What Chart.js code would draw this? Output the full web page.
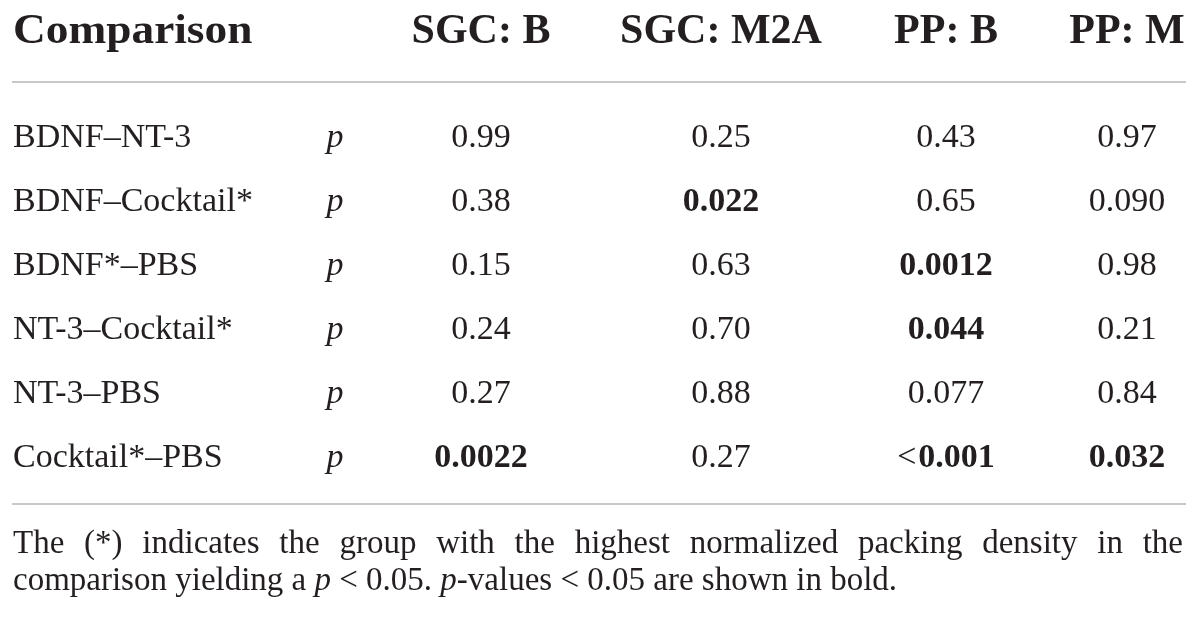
<!DOCTYPE html>
<html>
<head>
<meta charset="utf-8">
<script src="https://cdn.jsdelivr.net/npm/chart.js@4"></script>
<style>
  html, body { margin: 0; padding: 0; background: #ffffff; }
  #wrap { width: 1200px; height: 623px; position: relative; }
</style>
</head>
<body>
<div id="wrap"><canvas id="table"></canvas></div>
<script>
// ============================================
// Table data
// ============================================
const comparisons = ['BDNF\u2013NT-3', 'BDNF\u2013Cocktail*', 'BDNF*\u2013PBS', 'NT-3\u2013Cocktail*', 'NT-3\u2013PBS', 'Cocktail*\u2013PBS'];
const columns = ['SGC: B', 'SGC: M2A', 'PP: B', 'PP: M'];
const sgcB = ['0.99', '0.38', '0.15', '0.24', '0.27', '0.0022'];
const sgcM2A = ['0.25', '0.022', '0.63', '0.70', '0.88', '0.27'];
const ppB = ['0.43', '0.65', '0.0012', '0.044', '0.077', '<0.001'];
const ppM = ['0.97', '0.090', '0.98', '0.21', '0.84', '0.032'];
const series = [sgcB, sgcM2A, ppB, ppM];
const alpha = 0.05;

// ============================================
// Layout / style
// ============================================
const serif = "'Liberation Serif', 'DejaVu Serif', serif";
const ink = '#231f20';
const ruleColor = '#c8c8c8';
const colX = [481, 721, 946, 1127];   // column centres (x scale units = px)
const pColX = 335;
const leftX = 13;
const rightX = 1185;

// p < 0.05 -> bold
function isSignificant(v) {
    return parseFloat(v.replace('<', '')) < alpha;
}

const datasets = series.map((vals, k) => ({
    label: columns[k],
    data: comparisons.map((c, i) => ({ x: colX[k], y: c, text: vals[i] })),
    pointRadius: 0,
    pointHoverRadius: 0
}));
// the "p" column
datasets.unshift({
    label: 'p',
    data: comparisons.map(c => ({ x: pColX, y: c, text: 'p' })),
    pointRadius: 0,
    pointHoverRadius: 0
});

const tablePlugin = {
    id: 'tableText',
    afterDatasetsDraw(chart) {
        const ctx = chart.ctx;
        const yScale = chart.scales.y;
        const xScale = chart.scales.x;
        ctx.save();
        ctx.fillStyle = ink;
        ctx.textBaseline = 'alphabetic';

        // header
        ctx.font = 'bold 42px ' + serif;
        ctx.textAlign = 'left';
        ctx.save();
        ctx.translate(leftX, 43);
        ctx.scale(1.08, 1);   // original face is a bit wider
        ctx.fillText('Comparison', 0, 0);
        ctx.restore();
        ctx.textAlign = 'center';
        columns.forEach((c, k) => ctx.fillText(c, xScale.getPixelForValue(colX[k]), 43));

        // rules
        ctx.strokeStyle = ruleColor;
        ctx.lineWidth = 2;
        [82, 504].forEach(y => {
            ctx.beginPath();
            ctx.moveTo(leftX - 1, y);
            ctx.lineTo(rightX + 1, y);
            ctx.stroke();
        });

        // row labels
        ctx.font = '34px ' + serif;
        ctx.textAlign = 'left';
        comparisons.forEach(c => ctx.fillText(c, leftX, yScale.getPixelForValue(comparisons.indexOf(c)) + 11));

        // cells
        chart.data.datasets.forEach((ds, di) => {
            const meta = chart.getDatasetMeta(di);
            meta.data.forEach((el, i) => {
                const t = ds.data[i].text;
                const by = el.y + 11;
                if (ds.label === 'p') {
                    ctx.font = 'italic 34px ' + serif;
                    ctx.textAlign = 'center';
                    ctx.fillText(t, el.x, by);
                    return;
                }
                const bold = isSignificant(t);
                if (t.startsWith('<')) {
                    const rest = t.slice(1);
                    ctx.font = '34px ' + serif;
                    const w1 = ctx.measureText('<').width + 2;
                    ctx.font = 'bold 34px ' + serif;
                    const w2 = ctx.measureText(rest).width;
                    let x0 = el.x - (w1 + w2) / 2;
                    ctx.textAlign = 'left';
                    ctx.font = '34px ' + serif;
                    ctx.fillText('<', x0, by);
                    ctx.font = 'bold 34px ' + serif;
                    ctx.fillText(rest, x0 + w1, by);
                } else {
                    ctx.font = (bold ? 'bold ' : '') + '34px ' + serif;
                    ctx.textAlign = 'center';
                    ctx.fillText(t, el.x, by);
                }
            });
        });

        // footnote, line 1 justified
        ctx.textAlign = 'left';
        ctx.font = '33px ' + serif;
        const words = 'The (*) indicates the group with the highest normalized packing density in the'.split(' ');
        const widths = words.map(w => ctx.measureText(w).width);
        const total = widths.reduce((a, b) => a + b, 0);
        const gap = (rightX - 2 - leftX - total) / (words.length - 1);
        let x = leftX;
        words.forEach((w, i) => {
            ctx.fillText(w, x, 553);
            x += widths[i] + gap;
        });

        // footnote, line 2 with italic p
        const parts = [
            ['comparison yielding a ', ''],
            ['p', 'italic '],
            [' < 0.05. ', ''],
            ['p', 'italic '],
            ['-values < 0.05 are shown in bold.', '']
        ];
        x = leftX;
        parts.forEach(([s, st]) => {
            ctx.font = st + '33px ' + serif;
            ctx.fillText(s, x, 590);
            x += ctx.measureText(s).width;
        });
        ctx.restore();
    }
};

new Chart(document.getElementById('table'), {
    type: 'scatter',
    data: { datasets: datasets },
    options: {
        responsive: true,
        maintainAspectRatio: false,
        animation: false,
        events: [],
        layout: { padding: { top: 104, bottom: 135, left: 0, right: 0 } },
        plugins: { legend: { display: false }, tooltip: { enabled: false } },
        scales: {
            x: { type: 'linear', min: 0, max: 1200, display: false },
            y: { type: 'category', labels: comparisons, offset: true, display: false }
        }
    },
    plugins: [tablePlugin]
});
</script>
</body>
</html>
